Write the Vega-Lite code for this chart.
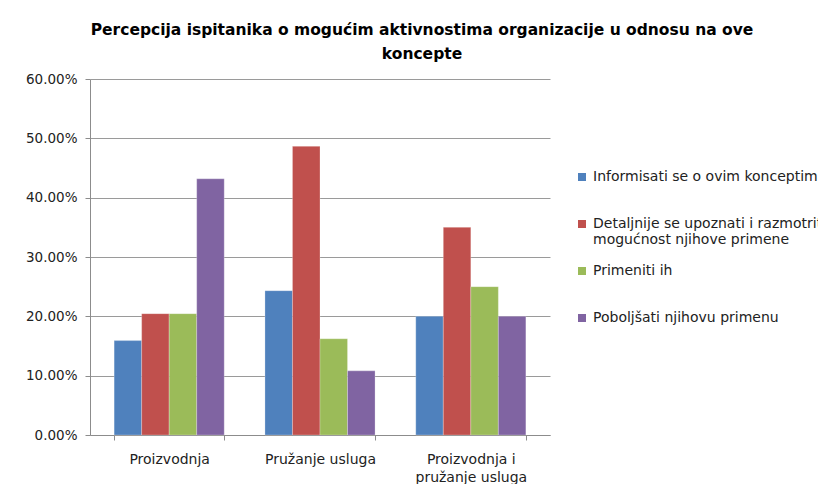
{
  "$schema": "https://vega.github.io/schema/vega-lite/v6.json",
  "autosize": {"type": "none"},
  "padding": {"left": 90, "top": 79, "right": 268, "bottom": 49},
  "width": 460,
  "height": 356,
  "background": "white",
  "title": {
    "text": ["Percepcija ispitanika o mogućim aktivnostima organizacije u odnosu na ove", "koncepte"],
    "font": "DejaVu Sans",
    "fontWeight": "bold",
    "fontSize": 15.5,
    "lineHeight": 24,
    "color": "#000000",
    "anchor": "middle",
    "frame": "group",
    "dx": 102,
    "offset": 10
  },
  "data": {
    "values": [
      {"kategorija": "Proizvodnja", "aktivnost": "Informisati se o ovim konceptima", "vrednost": 0.1591},
      {"kategorija": "Proizvodnja", "aktivnost": "Detaljnije se upoznati i razmotriti mogućnost njihove primene", "vrednost": 0.2045},
      {"kategorija": "Proizvodnja", "aktivnost": "Primeniti ih", "vrednost": 0.2045},
      {"kategorija": "Proizvodnja", "aktivnost": "Poboljšati njihovu primenu", "vrednost": 0.4318},
      {"kategorija": "Pružanje usluga", "aktivnost": "Informisati se o ovim konceptima", "vrednost": 0.2432},
      {"kategorija": "Pružanje usluga", "aktivnost": "Detaljnije se upoznati i razmotriti mogućnost njihove primene", "vrednost": 0.4865},
      {"kategorija": "Pružanje usluga", "aktivnost": "Primeniti ih", "vrednost": 0.1622},
      {"kategorija": "Pružanje usluga", "aktivnost": "Poboljšati njihovu primenu", "vrednost": 0.1081},
      {"kategorija": "Proizvodnja i pružanje usluga", "aktivnost": "Informisati se o ovim konceptima", "vrednost": 0.20},
      {"kategorija": "Proizvodnja i pružanje usluga", "aktivnost": "Detaljnije se upoznati i razmotriti mogućnost njihove primene", "vrednost": 0.35},
      {"kategorija": "Proizvodnja i pružanje usluga", "aktivnost": "Primeniti ih", "vrednost": 0.25},
      {"kategorija": "Proizvodnja i pružanje usluga", "aktivnost": "Poboljšati njihovu primenu", "vrednost": 0.20}
    ]
  },
  "mark": {"type": "bar", "stroke": "#ffffff", "strokeWidth": 0.5, "strokeOpacity": 0.5},
  "encoding": {
    "x": {
      "field": "kategorija",
      "type": "nominal",
      "sort": ["Proizvodnja", "Pružanje usluga", "Proizvodnja i pružanje usluga"],
      "scale": {"paddingInner": 0.27, "paddingOuter": 0.16},
      "axis": {
        "title": null,
        "labelAngle": 0,
        "labelFont": "DejaVu Sans",
        "labelFontSize": 14,
        "labelColor": "#222222",
        "labelPadding": 12,
        "labelLineHeight": 18,
        "labelExpr": "datum.value == 'Proizvodnja i pružanje usluga' ? ['Proizvodnja i', 'pružanje usluga'] : datum.value",
        "tickBand": "extent",
        "tickSize": 5,
        "tickColor": "#8c8c8c",
        "domainColor": "#8c8c8c",
        "grid": false
      }
    },
    "xOffset": {
      "field": "aktivnost",
      "type": "nominal",
      "sort": ["Informisati se o ovim konceptima", "Detaljnije se upoznati i razmotriti mogućnost njihove primene", "Primeniti ih", "Poboljšati njihovu primenu"],
      "scale": {"paddingInner": 0, "paddingOuter": 0}
    },
    "y": {
      "field": "vrednost",
      "type": "quantitative",
      "scale": {"domain": [0, 0.6], "nice": false},
      "axis": {
        "title": null,
        "format": ".2%",
        "values": [0, 0.1, 0.2, 0.3, 0.4, 0.5, 0.6],
        "labelFont": "DejaVu Sans",
        "labelFontSize": 13.5,
        "labelColor": "#222222",
        "labelPadding": 8,
        "tickSize": 5,
        "tickColor": "#8c8c8c",
        "domainColor": "#8c8c8c",
        "gridColor": "#9a9a9a",
        "gridWidth": 1
      }
    },
    "color": {
      "field": "aktivnost",
      "type": "nominal",
      "sort": ["Informisati se o ovim konceptima", "Detaljnije se upoznati i razmotriti mogućnost njihove primene", "Primeniti ih", "Poboljšati njihovu primenu"],
      "scale": {"range": ["#4F81BD", "#C0504D", "#9BBB59", "#8064A2"]},
      "legend": {
        "title": null,
        "orient": "none",
        "legendX": 485,
        "legendY": 91,
        "symbolType": "square",
        "symbolSize": 64,
        "symbolStrokeWidth": 0,
        "labelFont": "DejaVu Sans",
        "labelFontSize": 14,
        "labelColor": "#222222",
        "labelLimit": 600,
        "gridAlign": "all",
        "rowPadding": 17,
        "encode": {"labels": {"update": {"lineHeight": {"value": 19}}}},
        "labelExpr": "datum.value == 'Detaljnije se upoznati i razmotriti mogućnost njihove primene' ? ['Detaljnije se upoznati i razmotriti', 'mogućnost njihove primene'] : datum.value"
      }
    }
  },
  "config": {
    "view": {"stroke": null}
  }
}
